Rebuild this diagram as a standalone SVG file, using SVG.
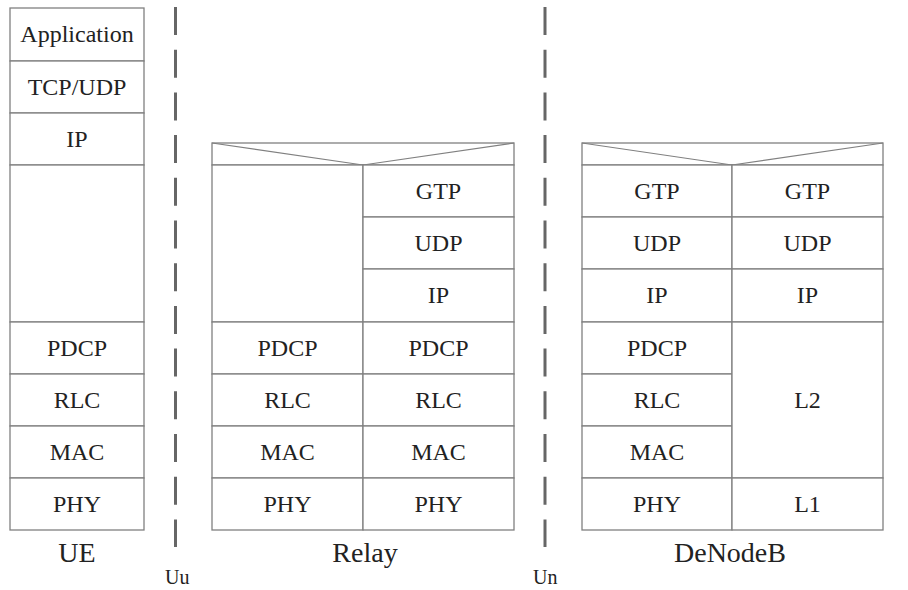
<svg xmlns="http://www.w3.org/2000/svg" width="908" height="590" viewBox="0 0 908 590">
<style>
.c{fill:#fff;stroke:#808080;stroke-width:1.3}
.l{fill:none;stroke:#808080;stroke-width:1.2}
.t{font-family:"Liberation Serif","Times New Roman",serif;font-size:24px;fill:#222;text-anchor:middle}
.n{font-family:"Liberation Serif","Times New Roman",serif;font-size:28px;fill:#222;text-anchor:middle}
.i{font-family:"Liberation Serif","Times New Roman",serif;font-size:20px;fill:#222}
.d{stroke:#666;stroke-width:3;stroke-dasharray:28 14.7;fill:none}
</style>
<rect width="908" height="590" fill="#fff"/>
<g id="UE">
<rect class="c" x="10" y="8" width="134" height="53"/>
<rect class="c" x="10" y="61" width="134" height="52"/>
<rect class="c" x="10" y="113" width="134" height="52"/>
<rect class="c" x="10" y="165" width="134" height="157"/>
<rect class="c" x="10" y="322" width="134" height="52"/>
<rect class="c" x="10" y="374" width="134" height="52"/>
<rect class="c" x="10" y="426" width="134" height="52"/>
<rect class="c" x="10" y="478" width="134" height="52"/>
<text class="t" x="77" y="42">Application</text>
<text class="t" x="77" y="95">TCP/UDP</text>
<text class="t" x="77" y="147">IP</text>
<text class="t" x="77" y="356">PDCP</text>
<text class="t" x="77" y="408">RLC</text>
<text class="t" x="77" y="460">MAC</text>
<text class="t" x="77" y="512">PHY</text>
<text class="n" x="77" y="562">UE</text>
</g>
<g id="Relay">
<rect class="c" x="212" y="143" width="302" height="22"/>
<path class="l" d="M212,143 L363,165 L514,143"/>
<rect class="c" x="212" y="165" width="151" height="157"/>
<rect class="c" x="363" y="165" width="151" height="52"/>
<rect class="c" x="363" y="217" width="151" height="52"/>
<rect class="c" x="363" y="269" width="151" height="53"/>
<rect class="c" x="212" y="322" width="151" height="52"/>
<rect class="c" x="363" y="322" width="151" height="52"/>
<rect class="c" x="212" y="374" width="151" height="52"/>
<rect class="c" x="363" y="374" width="151" height="52"/>
<rect class="c" x="212" y="426" width="151" height="52"/>
<rect class="c" x="363" y="426" width="151" height="52"/>
<rect class="c" x="212" y="478" width="151" height="52"/>
<rect class="c" x="363" y="478" width="151" height="52"/>
<text class="t" x="438.5" y="199">GTP</text>
<text class="t" x="438.5" y="251">UDP</text>
<text class="t" x="438.5" y="303">IP</text>
<text class="t" x="287.5" y="356">PDCP</text>
<text class="t" x="438.5" y="356">PDCP</text>
<text class="t" x="287.5" y="408">RLC</text>
<text class="t" x="438.5" y="408">RLC</text>
<text class="t" x="287.5" y="460">MAC</text>
<text class="t" x="438.5" y="460">MAC</text>
<text class="t" x="287.5" y="512">PHY</text>
<text class="t" x="438.5" y="512">PHY</text>
<text class="n" x="365" y="562">Relay</text>
</g>
<g id="DeNodeB">
<rect class="c" x="582" y="143" width="301" height="22"/>
<path class="l" d="M582,143 L732,165 L883,143"/>
<rect class="c" x="582" y="165" width="150" height="52"/>
<rect class="c" x="732" y="165" width="151" height="52"/>
<rect class="c" x="582" y="217" width="150" height="52"/>
<rect class="c" x="732" y="217" width="151" height="52"/>
<rect class="c" x="582" y="269" width="150" height="53"/>
<rect class="c" x="732" y="269" width="151" height="53"/>
<rect class="c" x="582" y="322" width="150" height="52"/>
<rect class="c" x="582" y="374" width="150" height="52"/>
<rect class="c" x="582" y="426" width="150" height="52"/>
<rect class="c" x="732" y="322" width="151" height="156"/>
<rect class="c" x="582" y="478" width="150" height="52"/>
<rect class="c" x="732" y="478" width="151" height="52"/>
<text class="t" x="657" y="199">GTP</text>
<text class="t" x="807.5" y="199">GTP</text>
<text class="t" x="657" y="251">UDP</text>
<text class="t" x="807.5" y="251">UDP</text>
<text class="t" x="657" y="303">IP</text>
<text class="t" x="807.5" y="303">IP</text>
<text class="t" x="657" y="356">PDCP</text>
<text class="t" x="657" y="408">RLC</text>
<text class="t" x="657" y="460">MAC</text>
<text class="t" x="807.5" y="407.5">L2</text>
<text class="t" x="657" y="512">PHY</text>
<text class="t" x="807.5" y="512">L1</text>
<text class="n" x="730" y="562">DeNodeB</text>
</g>
<g id="connectors">
<line class="d" x1="175.5" y1="7" x2="175.5" y2="547"/>
<line class="d" x1="545" y1="7" x2="545" y2="547"/>
<text class="i" x="165" y="584">Uu</text>
<text class="i" x="533" y="584">Un</text>
</g>
</svg>
